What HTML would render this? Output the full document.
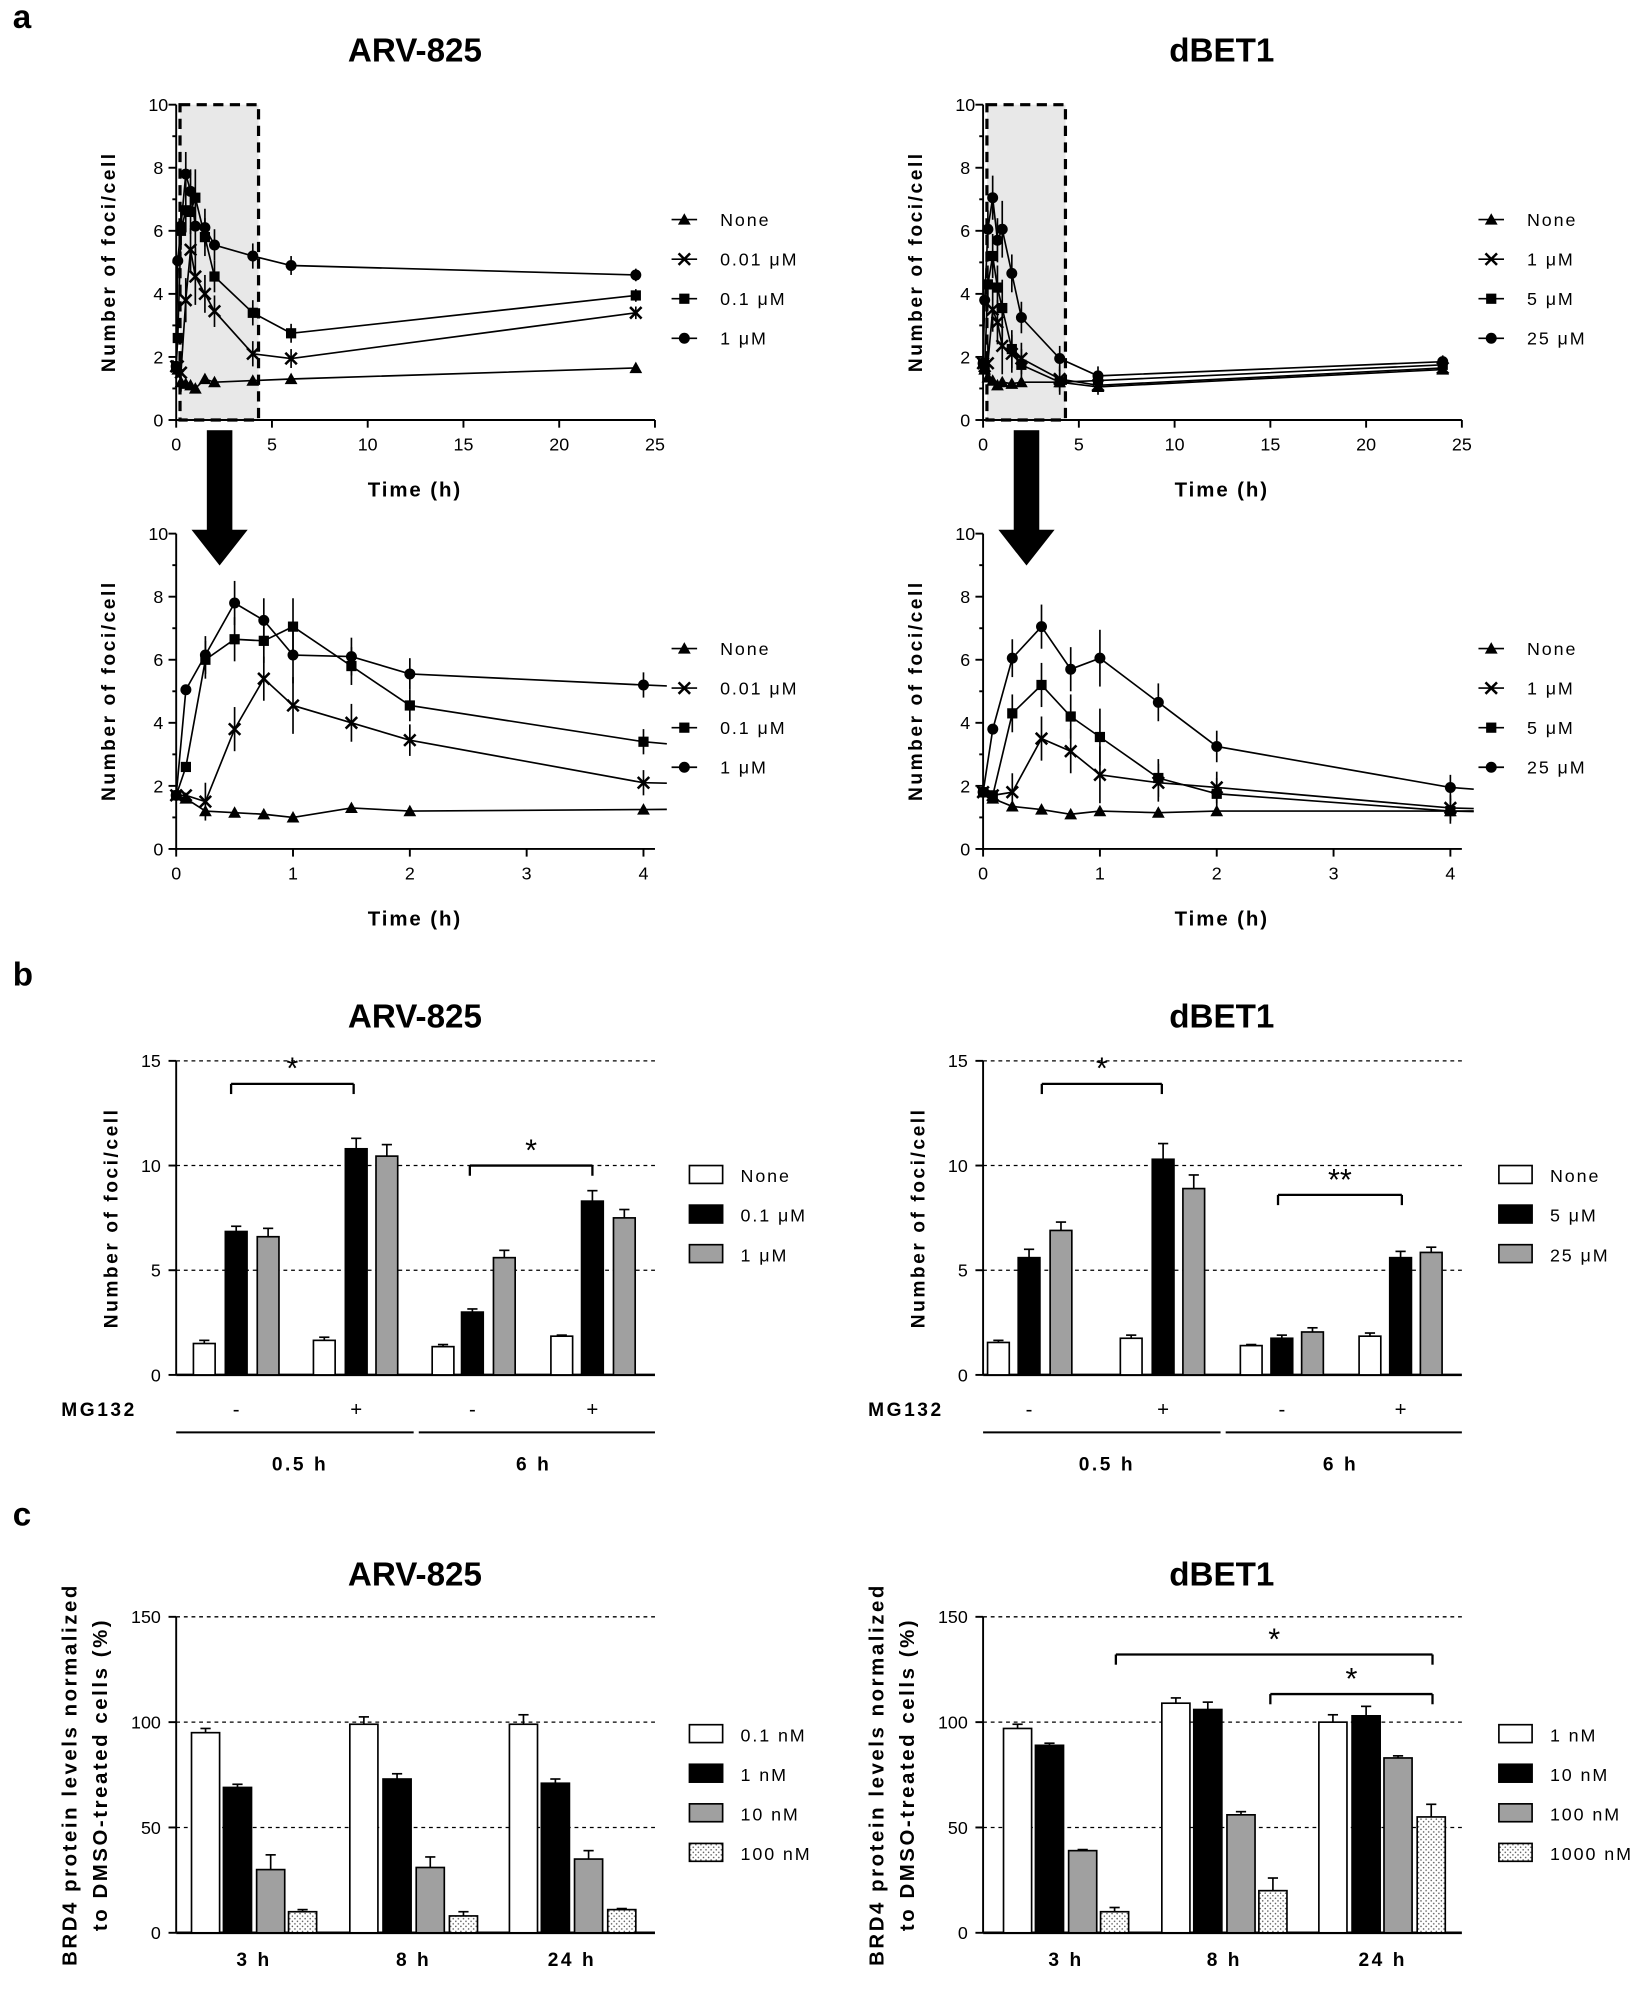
<!DOCTYPE html>
<html><head><meta charset="utf-8"><style>
html,body{margin:0;padding:0;background:#fff}
svg{display:block}
text{font-family:"Liberation Sans",Arial,sans-serif;fill:#000}
</style></head><body>
<svg id="s" width="1647" height="2003" viewBox="0 0 1290 1569" preserveAspectRatio="none" xmlns="http://www.w3.org/2000/svg"></svg>
<script>
const S=document.getElementById('s');let h='';
function T(x,y,t,o={}){h+=`<text x="${x}" y="${y}" font-size="${o.fs||15}" font-weight="${o.fw||'bold'}" text-anchor="${o.a||'middle'}" letter-spacing="${o.ls||0}" ${o.tr?`transform="${o.tr}"`:''}>${t}</text>`;}
function L(x1,y1,x2,y2,w=1.5,d=''){h+=`<line x1="${x1}" y1="${y1}" x2="${x2}" y2="${y2}" stroke="#000" stroke-width="${w}" ${d?`stroke-dasharray="${d}"`:''}/>`;}
function marker(t,x,y){
 if(t==0)h+=`<polygon points="${x},${y-5} ${x-5},${y+4} ${x+5},${y+4}"/>`;
 if(t==1){L(x-4.5,y-4.5,x+4.5,y+4.5,2);L(x-4.5,y+4.5,x+4.5,y-4.5,2);}
 if(t==2)h+=`<rect x="${x-4}" y="${y-4}" width="8" height="8"/>`;
 if(t==3)h+=`<circle cx="${x}" cy="${y}" r="4.3"/>`;
}
h+=`<defs><pattern id="dots" width="4" height="4" patternUnits="userSpaceOnUse"><rect width="4" height="4" fill="#fff"/><circle cx="1" cy="1" r="0.6" fill="#555"/><circle cx="3" cy="3" r="0.6" fill="#555"/></pattern></defs>`;
T(10,22,'a',{fs:26,a:'start'});T(10,772,'b',{fs:26,a:'start'});T(10,1195,'c',{fs:26,a:'start'});
[[325,48],[957,48],[325,805],[957,805],[325,1242],[957,1242]].forEach((p,i)=>T(p[0],p[1],i%2?'dBET1':'ARV-825',{fs:26}));
const dA=[[[0,1.7],[0.083,1.6],[0.25,1.2],[0.5,1.15],[0.75,1.1],[1,1.0],[1.5,1.3],[2,1.2],[4,1.25],[6,1.3],[24,1.65]],
[[0,1.7],[0.083,1.7],[0.25,1.5],[0.5,3.8],[0.75,5.4],[1,4.55],[1.5,4.0],[2,3.45],[4,2.1],[6,1.95],[24,3.4]],
[[0,1.7],[0.083,2.6],[0.25,6.0],[0.5,6.65],[0.75,6.6],[1,7.05],[1.5,5.8],[2,4.55],[4,3.4],[6,2.75],[24,3.95]],
[[0,1.7],[0.083,5.05],[0.25,6.15],[0.5,7.8],[0.75,7.25],[1,6.15],[1.5,6.1],[2,5.55],[4,5.2],[6,4.9],[24,4.6]]];
const dB=[[[0,1.8],[0.083,1.6],[0.25,1.35],[0.5,1.25],[0.75,1.1],[1,1.2],[1.5,1.15],[2,1.2],[4,1.2],[6,1.05],[24,1.6]],
[[0,1.8],[0.083,1.7],[0.25,1.8],[0.5,3.5],[0.75,3.1],[1,2.35],[1.5,2.1],[2,1.95],[4,1.3],[6,1.1],[24,1.65]],
[[0,1.8],[0.083,1.7],[0.25,4.3],[0.5,5.2],[0.75,4.2],[1,3.55],[1.5,2.25],[2,1.75],[4,1.2],[6,1.25],[24,1.75]],
[[0,1.8],[0.083,3.8],[0.25,6.05],[0.5,7.05],[0.75,5.7],[1,6.05],[1.5,4.65],[2,3.25],[4,1.95],[6,1.4],[24,1.85]]];
const errs=[0.2,0.5,0.6,0.7,0.7,0.9,0.6,0.5,0.4,0.3,0.2];
function ylab(x,y,t,fs=15){T(x,y,t,{fs,tr:`rotate(-90 ${x} ${y})`,ls:2});}
function line(ox,oy,xs,ys,xmax,ticks,data,legs,zoom){
 const X=v=>ox+v*xs,Y=v=>oy-v*ys;
 if(!zoom){h+=`<rect x="${X(0.2)}" y="${Y(10)}" width="${X(4.3)-X(0.2)}" height="${Y(0)-Y(10)}" fill="#e8e8e8" stroke="#000" stroke-width="2.5" stroke-dasharray="8,5"/>`;}
 L(ox,oy,ox+375,oy);L(ox,oy+1,ox,Y(10));
 for(let v=0;v<=10;v+=2){L(ox-6,Y(v),ox,Y(v));T(ox-14,Y(v)+5,v,{fs:14,fw:'normal'});}
 for(let v=1;v<10;v+=2)L(ox-3,Y(v),ox,Y(v));
 ticks.forEach(v=>{L(X(v),oy,X(v),oy+6);T(X(v),oy+24,v,{fs:14,fw:'normal'});});
 T(ox+187,oy+60,'Time (h)',{fs:16,ls:1.5});ylab(ox-48,oy-124,'Number of foci/cell');
 data.forEach((s,k)=>{
  let pts=s.filter(p=>p[0]<=xmax);let d=pts.map(p=>X(p[0])+','+Y(p[1])).join(' ');
  if(zoom){const a=s[8],b=s[9];const v=a[1]+(b[1]-a[1])*(4.2-4)/2;d+=' '+X(4.2)+','+Y(v);}
  h+=`<polyline points="${d}" fill="none" stroke="#000" stroke-width="1.3"/>`;
  pts.forEach((p,i)=>{if(k>0&&i>1){const e=errs[i];L(X(p[0]),Y(p[1]-e),X(p[0]),Y(p[1]+e),1.3);}marker(k,X(p[0]),Y(p[1]));});
 });
 legs.forEach((t,k)=>{const y=oy-157+k*31;L(ox+388,y,ox+408,y,1.3);marker(k,ox+398,y);T(ox+426,y+5,t,{fs:14,fw:'normal',a:'start',ls:1.5});});
}
const lA=['None','0.01 μM','0.1 μM','1 μM'],lB=['None','1 μM','5 μM','25 μM'];
line(138,329,15,24.7,25,[0,5,10,15,20,25],dA,lA,false);
line(770,329,15,24.7,25,[0,5,10,15,20,25],dB,lB,false);
line(138,665,91.5,24.7,4.2,[0,1,2,3,4],dA,lA,true);
line(770,665,91.5,24.7,4.2,[0,1,2,3,4],dB,lB,true);
[172,804].forEach(x=>{h+=`<rect x="${x-10}" y="337" width="20" height="80"/><polygon points="${x-22},415 ${x+22},415 ${x},443"/>`;});
function bars(ox,oy,ys,ymax,step,bw,groups,fills,legs,lx,ly){
 const Y=v=>oy-v*ys;
 for(let v=step;v<=ymax;v+=step)L(ox,Y(v),ox+375,Y(v),1,'3,3');
 L(ox,oy,ox+375,oy,2);L(ox,oy,ox,Y(ymax));
 for(let v=0;v<=ymax;v+=step){L(ox-6,Y(v),ox,Y(v));T(ox-12,Y(v)+5,v,{fs:14,fw:'normal',a:'end'});}
 groups.forEach(g=>g.forEach(([x,v,e],k)=>{
  L(x,Y(v),x,Y(v+e),1.3);L(x-4,Y(v+e),x+4,Y(v+e),1.3);
  h+=`<rect x="${x-bw/2}" y="${Y(v)}" width="${bw}" height="${v*ys}" fill="${fills[k]}" stroke="#000" stroke-width="1.3"/>`;
 }));
 legs.forEach((t,k)=>{const y=ly+k*31;h+=`<rect x="${lx}" y="${y-7}" width="26" height="14" fill="${fills[k]}" stroke="#000" stroke-width="1.3"/>`;T(lx+40,y+6,t,{fs:14,fw:'normal',a:'start',ls:1.5});});
}
const fb=['#fff','#000','#a0a0a0'];
function gb(xs,vs,es){return xs.map((x,i)=>[x,vs[i],es[i]]);}
bars(138,1077,16.4,15,5,17,[gb([160,185,210],[1.5,6.85,6.6],[.15,.25,.4]),gb([254,279,303],[1.65,10.8,10.45],[.15,.5,.55]),gb([347,370,395],[1.35,3.0,5.6],[.1,.15,.35]),gb([440,464,489],[1.85,8.3,7.5],[.05,.5,.4])],fb,['None','0.1 μM','1 μM'],540,920);
bars(770,1077,16.4,15,5,17,[gb([782,806,831],[1.55,5.6,6.9],[.1,.4,.4]),gb([886,911,935],[1.75,10.3,8.9],[.15,.75,.65]),gb([980,1004,1028],[1.4,1.75,2.05],[.05,.15,.2]),gb([1073,1097,1121],[1.85,5.6,5.85],[.15,.3,.25])],fb,['None','5 μM','25 μM'],1174,920);
ylab(92,954,'Number of foci/cell');ylab(724,954,'Number of foci/cell');
[[138,[185,279,370,464]],[770,[806,911,1004,1097]]].forEach(([ox,xs])=>{
 T(ox-90,1109,'MG132',{fs:15,a:'start',ls:2});
 xs.forEach((x,i)=>T(x,1109,i%2?'+':'-',{fs:16,fw:'normal'}));
 L(ox,1122,ox+186,1122,1.5);L(ox+190,1122,ox+375,1122,1.5);
 T(ox+97,1152,'0.5 h',{fs:15,ls:2});T(ox+280,1152,'6 h',{fs:15,ls:2});
});
function br(x1,x2,y,t){L(x1,y,x2,y,1.8);L(x1,y,x1,y+8,1.8);L(x2,y,x2,y+8,1.8);T((x1+x2)/2,y-4,t,{fs:24,fw:'normal'});}
br(181,277,849,'*');br(368,464,913,'*');br(816,910,849,'*');br(1001,1098,936,'**');
const fc=['#fff','#000','#a0a0a0','url(#dots)'];
const cy=1.65;
bars(138,1514,cy,150,50,22,[gb([161,186,212,237],[95,69,30,10],[2,1.5,7,1]),gb([285,311,337,363],[99,73,31,8],[3.5,2.5,5,2]),gb([410,435,461,487],[99,71,35,11],[4.5,2,4,.5])],fc,['0.1 nM','1 nM','10 nM','100 nM'],540,1358);
bars(770,1514,cy,150,50,22,[gb([797,822,848,873],[97,89,39,10],[2,1,.5,2]),gb([921,946,972,997],[109,106,56,20],[2.5,3.5,1.5,6]),gb([1044,1070,1095,1121],[100,103,83,55],[3.5,4.5,1,6])],fc,['1 nM','10 nM','100 nM','1000 nM'],1174,1358);
[[199,324,448],[835,959,1083]].forEach(xs=>['3 h','8 h','24 h'].forEach((t,i)=>T(xs[i],1540,t,{fs:15,ls:2})));
[[60,1390],[84,1390],[692,1390],[716,1390]].forEach(([x,y],i)=>ylab(x,y,i%2?'to DMSO-treated cells (%)':'BRD4 protein levels normalized',16));
br(874,1122,1296,'*');br(995,1122,1327,'*');
S.innerHTML=h;
</script>
</body></html>
